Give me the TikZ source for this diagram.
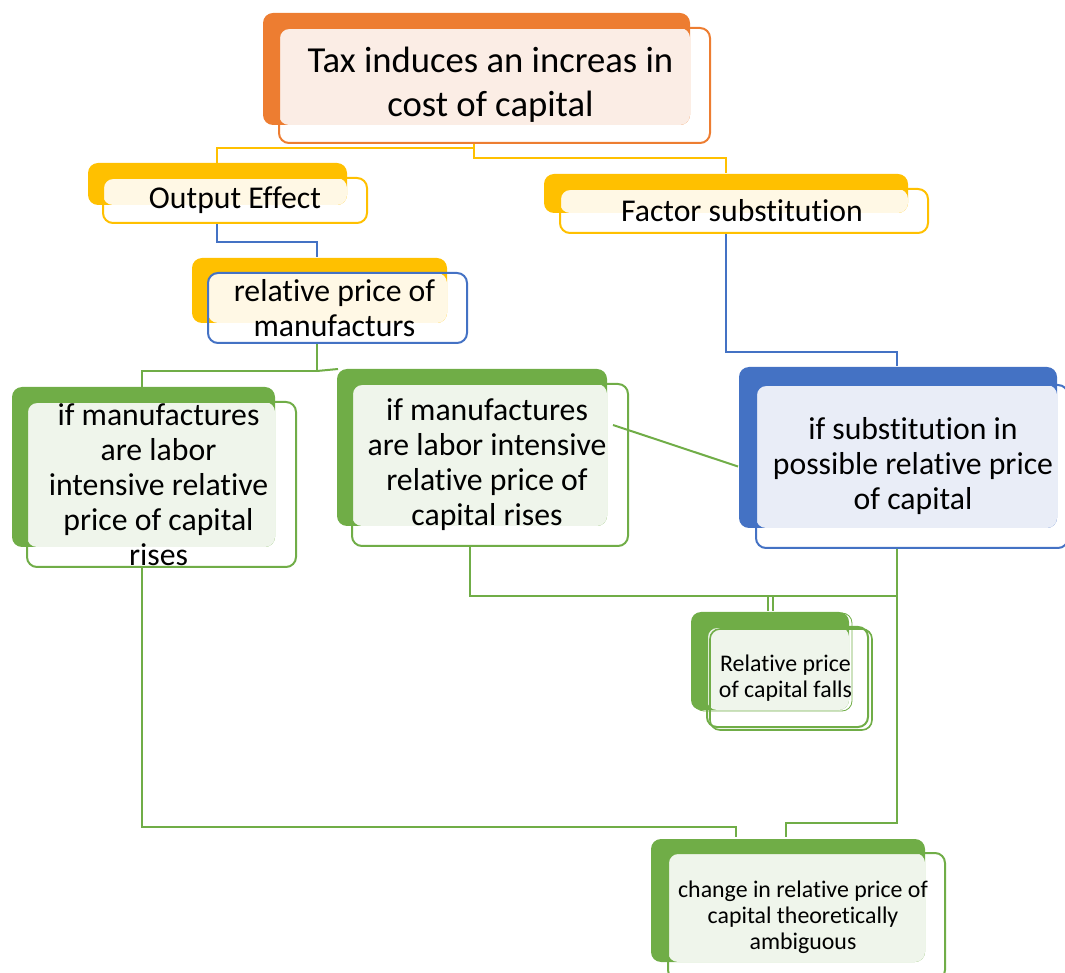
\documentclass[tikz,border=0pt]{standalone}
\usepackage{fontspec}
\setmainfont{Carlito}[Ligatures=NoCommon]
\usetikzlibrary{calc,fit,backgrounds}
\definecolor{orC}{HTML}{ED7D31}
\definecolor{orL}{HTML}{FBEDE5}
\definecolor{yeC}{HTML}{FFC000}
\definecolor{yeL}{HTML}{FFF8E5}
\definecolor{blC}{HTML}{4472C4}
\definecolor{blL}{HTML}{E9EDF7}
\definecolor{grC}{HTML}{70AD47}
\definecolor{grL}{HTML}{EFF5EB}
\tikzset{
  backbox/.style={rounded corners=7.5pt},
  frontbox/.style={draw, line width=1.5pt, rounded corners=7.5pt, inner sep=0pt},
  txt/.style={inner sep=0pt, align=center, text=black},
  bigtext/.style={txt, font=\fontsize{27.5}{33}\selectfont},
  midtext/.style={txt, font=\fontsize{23.8}{26.25}\selectfont},
  smalltext/.style={txt, font=\fontsize{17.9}{19.6}\selectfont},
  conn/.style={line width=1.5pt}
}
\begin{document}
\begin{tikzpicture}[x=0.75pt,y=-0.75pt]
\useasboundingbox (0,0) rectangle (1065,973);
% top
\fill[orC, backbox] (263,13) rectangle (690,125);
\fill[orL, backbox] (279,28) rectangle (690,125);
\node[frontbox, draw=orC, fit={(279,28)(710,143)}] (top) {};
\node[bigtext] (topt) at ($(top.center)+(-4,-1)$) {Tax induces an increas in\\cost of capital};
% output effect
\fill[yeC, backbox] (88,163) rectangle (347,205);
\fill[yeL, backbox] (103,178) rectangle (347,205);
\node[frontbox, draw=yeC, fit={(103,178)(367,223)}] (out) {};
\node[midtext] (outt) at ($(out.center)+(0,0)$) {Output Effect};
% factor substitution
\fill[yeC, backbox] (544,174) rectangle (908,213);
\fill[yeL, backbox] (560,189) rectangle (908,213);
\node[frontbox, draw=yeC, fit={(560,189)(928,233)}] (fac) {};
\node[midtext] (fact) at ($(fac.center)+(-2,0)$) {Factor substitution};
% relative price of manufacturs
\fill[yeC, backbox] (192,258) rectangle (447,323);
\fill[yeL, backbox] (208,273) rectangle (447,323);
\node[frontbox, draw=blC, fit={(208,273)(467,343)}] (rel) {};
\node[midtext] (relt) at ($(rel.center)+(-3,0)$) {relative price of\\manufacturs};
% left green
\fill[grC, backbox] (12,387) rectangle (275,547);
\fill[grL, backbox] (27,402) rectangle (275,547);
\node[frontbox, draw=grC, fit={(27,402)(296,567)}] (lg) {};
\node[midtext] (lgt) at ($(lg.center)+(-3,0)$) {if manufactures\\are labor\\intensive relative\\price of capital\\rises};
% middle green
\fill[grC, backbox] (337,369) rectangle (607,526);
\fill[grL, backbox] (352,384) rectangle (607,526);
\node[frontbox, draw=grC, fit={(352,384)(628,546)}] (mg) {};
\node[midtext] (mgt) at ($(mg.center)+(-3,0)$) {if manufactures\\are labor intensive\\relative price of\\capital rises};
% blue
\fill[blC, backbox] (739,367) rectangle (1057,528);
\fill[blL, backbox] (756,385) rectangle (1057,528);
\node[frontbox, draw=blC, fit={(756,385)(1068,548)}] (bl) {};
\node[midtext] (blt) at (913,466) {if substitution in\\possible relative price\\of capital};
% small green
\draw[grC, line width=0.6pt, backbox] (694,613) rectangle (852,711);
\fill[grC, backbox] (691,612) rectangle (849,710);
\fill[grL, backbox] (707,627) rectangle (849,710);
\draw[grC, line width=1.2pt, backbox] (710,629) rectangle (872,730);
\node[frontbox, draw=grC, fit={(707,627)(868,727)}] (sm) {};
\node[smalltext] (smt) at ($(sm.center)+(-2,1)$) {Relative price\\of capital falls};
% bottom green
\fill[grC, backbox] (651,839) rectangle (925,962);
\fill[grL, backbox] (668,853) rectangle (925,962);
\node[frontbox, draw=grC, fit={(668,853)(945,980)}] (bot) {};
\node[smalltext] (bott) at (803,917) {change in relative price of\\capital theoretically\\ambiguous};
% connectors
\begin{scope}[on background layer]
\draw[conn, yeC] ($(top.south west)+(196,0)$) -- ++(0,4) -| ($(out.north west)+(115,0)$);
\draw[conn, yeC] ($(top.south west)+(196,0)$) -- ++(0,14) -| ($(fac.north west)+(167,-15)$);
\draw[conn, blC] ($(out.south west)+(115,0)$) -- ++(0,18) -| ($(rel.north west)+(110,-15)$);
\draw[conn, blC] ($(fac.south west)+(167,0)$) -- ++(0,118) -| ($(bl.north west)+(142,-18)$);
\draw[conn, grC] ($(rel.south west)+(110,0)$) -- ++(0,27) -| ($(lg.north west)+(116,-14)$);
\draw[conn, grC] ($(rel.south west)+(110,27)$) -- ($(mg.north west)+(-13,-14)$);
\draw[conn, grC] ($(mg.north east)+(-16,42)$) -- ($(bl.west)+(-17,0)$);
\draw[conn, grC] ($(mg.south west)+(119,0)$) -- ++(0,49) -| ($(bl.south west)+(142,0)$);
\draw[conn, grC] ($(bl.south west)+(142,0)$) -- ++(0,274) -| ($(bot.north west)+(119,-15)$);
\draw[conn, grC] ($(lg.south west)+(116,0)$) -- ++(0,259) -| ($(bot.north west)+(69,-15)$);
\draw[conn, grC] ($(bl.south west)+(142,47)$) -| ($(sm.north west)+(62,-15)$);
\draw[conn, grC] ($(sm.north west)+(67,-30)$) -- ($(sm.north west)+(67,-15)$);
\end{scope}
\end{tikzpicture}
\end{document}
